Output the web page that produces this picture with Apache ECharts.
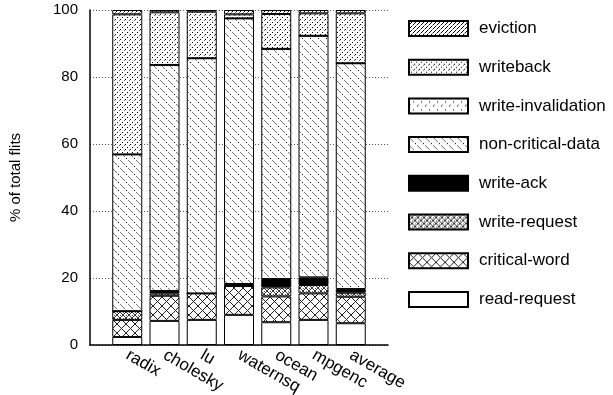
<!DOCTYPE html>
<html>
<head>
<meta charset="utf-8">
<script src="https://cdn.jsdelivr.net/npm/echarts@6/dist/echarts.min.js"></script>
<style>html,body{margin:0;padding:0;background:#fff}#c{width:613px;height:395px}</style>
</head>
<body>
<div id="c"></div>
<script>
const categories = ['radix', 'cholesky', 'lu', 'waternsq', 'ocean', 'mpgenc', 'average'];
const readRequest       = [2.4, 7.2, 7.5, 9.0, 6.8, 7.5, 6.5];
const criticalWord      = [5.1, 7.5, 7.9, 8.6, 7.7, 7.9, 7.9];
const writeRequest      = [2.6, 0.7, 0.0, 0.0, 2.7, 2.5, 1.2];
const writeAck          = [0.0, 0.7, 0.0, 0.6, 2.5, 2.3, 1.1];
const nonCriticalData   = [46.8, 67.5, 70.2, 79.3, 68.7, 72.1, 67.4];
const writeInvalidation = [0, 0, 0, 0, 0, 0, 0];
const writeback         = [41.8, 15.7, 13.9, 1.2, 10.4, 6.7, 14.9];
const eviction          = [1.3, 0.7, 0.5, 1.3, 1.2, 1.0, 1.0];
const yTicks = [0, 20, 40, 60, 80, 100];

function pat(w, h, draw) {
  const c = document.createElement('canvas');
  c.width = w; c.height = h;
  const g = c.getContext('2d');
  g.fillStyle = '#fff'; g.fillRect(0, 0, w, h);
  draw(g, w, h);
  return { image: c, repeat: 'repeat' };
}
function px(g, x, y, col) { g.fillStyle = col || '#000'; g.fillRect(x, y, 1, 1); }

const patterns = {
  eviction: pat(4, 4, (g) => { for (let i = 0; i < 4; i++) px(g, i, 3 - i, i === 3 ? '#888' : '#000'); }),
  writeback: pat(5, 5, (g) => { px(g, 0, 4); px(g, 2, 2); px(g, 4, 0, '#666'); }),
  writeInvalidation: pat(8, 8, (g) => { px(g, 0, 7); px(g, 1, 6, '#777'); px(g, 4, 3); }),
  nonCritical: pat(8, 8, (g) => {
    for (let i = 0; i < 8; i++) { if (i < 5) px(g, i, i, '#777'); else if (i === 6) px(g, i, i, '#000'); }
  }),
  writeAck: '#000',
  writeRequest: pat(6, 6, (g) => {
    for (let i = 0; i < 6; i++) { px(g, i, i, '#333'); px(g, 5 - i, i, '#333'); }
    px(g, 0, 3, '#555'); px(g, 3, 0, '#555');
  }),
  criticalWord: pat(9, 9, (g) => {
    for (let i = 0; i < 9; i++) { px(g, i, i, '#222'); px(g, 8 - i, i, '#222'); }
  }),
  readRequest: '#fff'
};

const FONT = "'Liberation Sans', Arial, Helvetica, sans-serif";
const axisCats = [''].concat(categories, ['']);
const pad = (arr) => [null].concat(arr, [null]);

function s(name, data, color) {
  return {
    name, type: 'bar', stack: 'total', barWidth: 30, data: pad(data),
    itemStyle: { color, borderColor: '#000', borderWidth: 1 },
    emphasis: { disabled: true }
  };
}

const chart = echarts.init(document.getElementById('c'), null, { renderer: 'canvas' });
chart.setOption({
  animation: false,
  textStyle: { fontFamily: FONT },
  grid: { left: 90, right: 225, top: 10, bottom: 50, containLabel: false, outerBoundsMode: 'none' },
  xAxis: {
    type: 'category', data: axisCats, boundaryGap: false,
    axisLine: { show: true, lineStyle: { color: '#000', width: 1.5 } },
    axisTick: { show: false },
    splitLine: { show: false },
    axisLabel: {
      interval: 0, rotate: -30, fontSize: 17, color: '#000', fontFamily: FONT, margin: 9
    }
  },
  yAxis: {
    type: 'value', min: yTicks[0], max: yTicks[yTicks.length - 1], interval: 20,
    name: '% of total flits', nameLocation: 'middle', nameGap: 67,
    nameTextStyle: { fontSize: 15, color: '#000', fontFamily: FONT },
    axisLine: { show: true, lineStyle: { color: '#000', width: 1.5 } },
    axisTick: { show: false },
    axisLabel: { fontSize: 15, color: '#000', margin: 12, fontFamily: FONT },
    splitLine: { show: true, lineStyle: { color: '#555', type: [1, 2], width: 1 } }
  },
  legend: {
    orient: 'vertical', left: 408, top: 20, padding: 0,
    itemWidth: 59, itemHeight: 15, itemGap: 21.7,
    icon: 'rect',
    textStyle: { fontSize: 17, color: '#000', fontFamily: FONT, padding: [0, 0, 0, 6] },
    data: ['eviction', 'writeback', 'write-invalidation', 'non-critical-data', 'write-ack', 'write-request', 'critical-word', 'read-request']
  },
  series: [
    s('read-request', readRequest, patterns.readRequest),
    s('critical-word', criticalWord, patterns.criticalWord),
    s('write-request', writeRequest, patterns.writeRequest),
    s('write-ack', writeAck, patterns.writeAck),
    s('non-critical-data', nonCriticalData, patterns.nonCritical),
    s('write-invalidation', writeInvalidation, patterns.writeInvalidation),
    s('writeback', writeback, patterns.writeback),
    s('eviction', eviction, patterns.eviction)
  ]
});
</script>
</body>
</html>
